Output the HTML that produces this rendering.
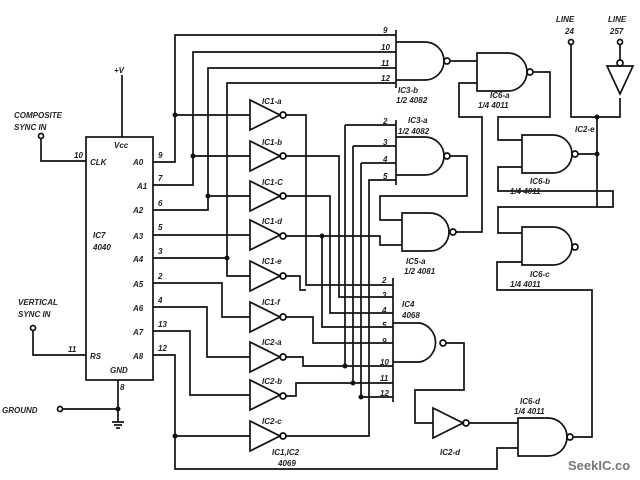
<!DOCTYPE html>
<html><head><style>
html,body{margin:0;padding:0;background:#fff;}
svg{display:block}
text{font-family:"Liberation Sans",sans-serif;font-style:italic;fill:#222;}
</style></head><body>
<svg width="640" height="480" viewBox="0 0 640 480" xmlns="http://www.w3.org/2000/svg">
<g fill="none" stroke="#111" stroke-width="1.7">
<rect x="86" y="137" width="67" height="243"/>
<line x1="122" y1="137" x2="122" y2="75"/>
<circle cx="41" cy="136" r="2.5" fill="#fff"/>
<polyline points="41,139 41,161 86,161"/>
<circle cx="33" cy="328" r="2.5" fill="#fff"/>
<polyline points="33,331 33,355 86,355"/>
<circle cx="60" cy="409" r="2.5" fill="#fff"/>
<polyline points="63,409 118,409"/>
<polyline points="118,380 118,422"/>
<line x1="112" y1="422" x2="124" y2="422"/><line x1="114" y1="425" x2="122" y2="425"/><line x1="116" y1="428" x2="120" y2="428"/>
<polyline points="153,162 175,162 175,35 396,35"/>
<line x1="175" y1="115" x2="250" y2="115"/>
<polyline points="153,185 193,185 193,52 396,52"/>
<line x1="193" y1="156" x2="250" y2="156"/>
<polyline points="153,210 208,210 208,68 396,68"/>
<line x1="208" y1="196" x2="250" y2="196"/>
<line x1="153" y1="235" x2="250" y2="235"/>
<polyline points="153,258 227,258 227,83 396,83"/>
<polyline points="227,258 227,276 250,276"/>
<polyline points="153,283 222,283 222,317 250,317"/>
<polyline points="153,307 207,307 207,357 250,357"/>
<polyline points="153,331 190,331 190,395 250,395"/>
<polyline points="153,355 175,355 175,469 497,469 497,448 518,448"/>
<line x1="175" y1="436" x2="250" y2="436"/>
<g>
<path d="M250,100 L250,130 L280,115 Z"/><circle cx="283" cy="115" r="3"/>
<path d="M250,141 L250,171 L280,156 Z"/><circle cx="283" cy="156" r="3"/>
<path d="M250,181 L250,211 L280,196 Z"/><circle cx="283" cy="196" r="3"/>
<path d="M250,220 L250,250 L280,235 Z"/><circle cx="283" cy="236" r="3"/>
<path d="M250,261 L250,291 L280,276 Z"/><circle cx="283" cy="276" r="3"/>
<path d="M250,302 L250,332 L280,317 Z"/><circle cx="283" cy="317" r="3"/>
<path d="M250,342 L250,372 L280,357 Z"/><circle cx="283" cy="357" r="3"/>
<path d="M250,380 L250,410 L280,395 Z"/><circle cx="283" cy="396" r="3"/>
<path d="M250,421 L250,451 L280,436 Z"/><circle cx="283" cy="436" r="3"/>
</g>
<polyline points="286,115 306,115 306,285 393,285"/>
<polyline points="286,156 339,156 339,297 393,297"/>
<polyline points="286,196 330,196 330,313 393,313"/>
<polyline points="286,236 380,236 380,245 402,245"/>
<polyline points="322,236 322,327 393,327"/>
<polyline points="286,276 300,276 300,290 306,290"/>
<polyline points="286,317 313,317 313,343 393,343"/>
<polyline points="286,357 303,357 303,366 393,366"/>
<polyline points="286,396 296,396 296,383 393,383"/>
<polyline points="286,436 369,436 369,180 396,180"/>
<polyline points="345,125 345,366"/>
<polyline points="345,125 396,125"/>
<polyline points="353,146 396,146"/><line x1="353" y1="146" x2="353" y2="383"/>
<polyline points="361,163 396,163"/><line x1="361" y1="163" x2="361" y2="397"/>
<line x1="361" y1="397" x2="393" y2="397"/>
<line x1="393" y1="278" x2="393" y2="402"/>
<path d="M393,323 L420,323 A20,20 0 0 1 420,362 L393,362"/>
<circle cx="443" cy="343" r="3"/>
<polyline points="446,343 464,343 464,390 415,390 415,423 433,423"/>
<path d="M433,408 L433,438 L463,423 Z"/><circle cx="466" cy="423" r="3"/>
<line x1="469" y1="423" x2="518" y2="423"/>
<path d="M518,418 L548,418 A19,19 0 0 1 548,456 L518,456 Z"/>
<circle cx="570" cy="437" r="3"/>
<polyline points="573,437 592,437 592,290 497,290 497,262 522,262"/>
<line x1="396" y1="30" x2="396" y2="88"/>
<path d="M396,42 L425,42 A19,19 0 0 1 425,80 L396,80"/>
<circle cx="447" cy="61" r="3"/>
<line x1="450" y1="61" x2="477" y2="61"/>
<path d="M477,53 L508,53 A19,19 0 0 1 508,91 L477,91 Z"/>
<circle cx="530" cy="72" r="3"/>
<polyline points="533,72 550,72 550,117 498,117 498,140 522,140"/>
<polyline points="477,83 459,83 459,117 482,117 482,232 456,232"/>
<line x1="396" y1="120" x2="396" y2="185"/>
<path d="M396,137 L425,137 A19,19 0 0 1 425,175 L396,175"/>
<circle cx="447" cy="156" r="3"/>
<polyline points="450,156 467,156 467,196 380,196 380,220 402,220"/>
<path d="M402,213 L430,213 A19,19 0 0 1 430,251 L402,251 Z"/>
<circle cx="453" cy="232" r="3"/>
<path d="M522,135 L553,135 A19,19 0 0 1 553,173 L522,173 Z"/>
<circle cx="575" cy="154" r="3"/>
<polyline points="578,154 597,154"/>
<polyline points="522,167 498,167 498,191 613,191 613,207 498,207 498,233 522,233"/>
<path d="M522,227 L553,227 A19,19 0 0 1 553,265 L522,265 Z"/>
<circle cx="575" cy="247" r="3"/>
<circle cx="571" cy="42" r="2.5" fill="#fff"/>
<polyline points="571,45 571,117 620,117 620,98"/>
<line x1="597" y1="117" x2="597" y2="207"/>
<circle cx="620" cy="42" r="2.5" fill="#fff"/>
<line x1="620" y1="45" x2="620" y2="60"/>
<circle cx="620" cy="63" r="3"/>
<path d="M607,66 L633,66 L620,94 Z"/>
</g>
<g fill="#111">
<circle cx="175" cy="115" r="2.5"/><circle cx="193" cy="156" r="2.5"/><circle cx="208" cy="196" r="2.5"/>
<circle cx="227" cy="258" r="2.5"/><circle cx="175" cy="436" r="2.5"/><circle cx="118" cy="409" r="2.5"/>
<circle cx="322" cy="236" r="2.5"/><circle cx="345" cy="366" r="2.5"/><circle cx="353" cy="383" r="2.5"/>
<circle cx="361" cy="397" r="2.5"/><circle cx="597" cy="117" r="2.5"/><circle cx="597" cy="154" r="2.5"/>
</g>
<g font-size="8" font-weight="bold">
<text x="114" y="73">+V</text>
<text x="14" y="118">COMPOSITE</text><text x="14" y="130">SYNC IN</text>
<text x="18" y="305">VERTICAL</text><text x="18" y="317">SYNC IN</text>
<text x="2" y="413">GROUND</text>
<text x="114" y="148">Vcc</text><text x="90" y="165">CLK</text>
<text x="133" y="165">A0</text><text x="137" y="189">A1</text><text x="133" y="213">A2</text>
<text x="133" y="239">A3</text><text x="133" y="262">A4</text><text x="133" y="287">A5</text>
<text x="133" y="311">A6</text><text x="133" y="335">A7</text><text x="133" y="359">A8</text>
<text x="90" y="359">RS</text><text x="110" y="373">GND</text><text x="120" y="390">8</text>
<text x="93" y="238">IC7</text><text x="93" y="250">4040</text>
<text x="74" y="158">10</text><text x="68" y="352">11</text>
<text x="158" y="158">9</text><text x="158" y="181">7</text><text x="158" y="206">6</text>
<text x="158" y="230">5</text><text x="158" y="254">3</text><text x="158" y="279">2</text>
<text x="158" y="303">4</text><text x="158" y="327">13</text><text x="158" y="351">12</text>
<text x="262" y="104">IC1-a</text><text x="262" y="145">IC1-b</text><text x="262" y="185">IC1-C</text>
<text x="262" y="224">IC1-d</text><text x="262" y="264">IC1-e</text><text x="262" y="305">IC1-f</text>
<text x="262" y="345">IC2-a</text><text x="262" y="384">IC2-b</text><text x="262" y="424">IC2-c</text>
<text x="272" y="455">IC1,IC2</text><text x="278" y="466">4069</text>
<text x="398" y="93">IC3-b</text><text x="396" y="103">1/2 4082</text>
<text x="408" y="123">IC3-a</text><text x="398" y="134">1/2 4082</text>
<text x="406" y="264">IC5-a</text><text x="404" y="274">1/2 4081</text>
<text x="490" y="98">IC6-a</text><text x="478" y="108">1/4 4011</text>
<text x="530" y="184">IC6-b</text><text x="510" y="194">1/4 4011</text>
<text x="530" y="277">IC6-c</text><text x="510" y="287">1/4 4011</text>
<text x="520" y="404">IC6-d</text><text x="514" y="414">1/4 4011</text>
<text x="440" y="455">IC2-d</text>
<text x="402" y="307">IC4</text><text x="402" y="318">4068</text>
<text x="575" y="132">IC2-e</text>
<text x="556" y="22">LINE</text><text x="565" y="34">24</text>
<text x="608" y="22">LINE</text><text x="610" y="34">257</text>
<text x="383" y="33">9</text><text x="381" y="50">10</text><text x="381" y="66">11</text><text x="381" y="81">12</text>
<text x="383" y="124">2</text><text x="383" y="145">3</text><text x="383" y="162">4</text><text x="383" y="179">5</text>
<text x="382" y="283">2</text><text x="382" y="298">3</text><text x="382" y="313">4</text><text x="382" y="328">5</text>
<text x="382" y="344">9</text><text x="380" y="365">10</text><text x="380" y="381">11</text><text x="380" y="396">12</text>
</g>
<text x="568" y="470" font-size="13" font-weight="bold" style="font-style:normal;fill:#777">SeekIC.co</text>
</svg>
</body></html>
